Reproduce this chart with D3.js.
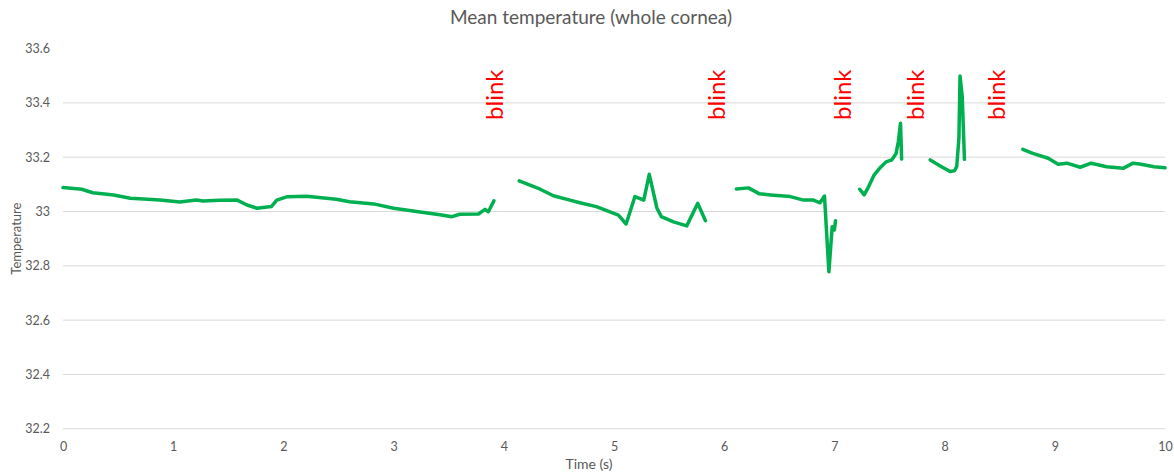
<!DOCTYPE html>
<html>
<head>
<meta charset="utf-8">
<script src="https://cdn.jsdelivr.net/npm/d3@7"></script>
<style>
  body { margin: 0; background: #fff; }
  text { font-family: Lato, "Open Sans", sans-serif; }
</style>
</head>
<body>
<svg id="chart"></svg>
<script>
const width = 1174;
const height = 473;
const margin = { top: 48.6, right: 9, bottom: 44.3, left: 63 };

// time (s) and mean temperature; null marks a gap (blink)
const time = [
  0.00, 0.17, 0.27, 0.46, 0.61, 0.73, 0.88, 1.06, 1.21, 1.27, 1.42, 1.58, 1.67, 1.76, 1.89, 1.94,
  2.03, 2.21, 2.48, 2.60, 2.82, 3.00, 3.24, 3.42, 3.53, 3.60, 3.77, 3.83, 3.86, 3.91,
  4.00,
  4.14, 4.33, 4.45, 4.60, 4.69, 4.84, 5.04, 5.11, 5.19, 5.27, 5.32, 5.39, 5.43, 5.54, 5.66, 5.76, 5.83,
  6.00,
  6.11, 6.22, 6.32, 6.42, 6.60, 6.72, 6.81, 6.87, 6.91, 6.95, 6.98, 7.00, 7.01,
  7.10,
  7.23, 7.27, 7.31, 7.36, 7.41, 7.47, 7.52, 7.56, 7.58, 7.60, 7.61,
  7.75,
  7.87, 7.96, 8.05, 8.09, 8.11, 8.13, 8.14, 8.16, 8.18,
  8.40,
  8.71, 8.80, 8.94, 9.03, 9.11, 9.23, 9.33, 9.47, 9.62, 9.71, 9.77, 9.90, 10.00
];
const temp = [
  33.088, 33.082, 33.069, 33.061, 33.049, 33.046, 33.042, 33.035, 33.042, 33.039, 33.041, 33.042, 33.024, 33.012, 33.018, 33.042,
  33.054, 33.056, 33.045, 33.036, 33.028, 33.012, 32.998, 32.988, 32.981, 32.990, 32.991, 33.008, 32.999, 33.039,
  null,
  33.113, 33.082, 33.058, 33.042, 33.032, 33.018, 32.987, 32.954, 33.055, 33.042, 33.137, 33.012, 32.981, 32.962, 32.947, 33.030, 32.966,
  null,
  33.083, 33.087, 33.065, 33.061, 33.055, 33.042, 33.042, 33.032, 33.057, 32.778, 32.944, 32.932, 32.966,
  null,
  33.082, 33.061, 33.091, 33.134, 33.159, 33.183, 33.190, 33.214, 33.257, 33.325, 33.193,
  null,
  33.190, 33.168, 33.147, 33.150, 33.165, 33.270, 33.499, 33.423, 33.192,
  null,
  33.229, 33.214, 33.196, 33.174, 33.178, 33.163, 33.178, 33.165, 33.159, 33.178, 33.175, 33.165, 33.161
];

const blinkTimes = [3.91, 5.92, 7.06, 7.73, 8.46];
const blinkY = 33.43;

const xTicks = [0, 1, 2, 3, 4, 5, 6, 7, 8, 9, 10];
const yTicks = [32.2, 32.4, 32.6, 32.8, 33, 33.2, 33.4, 33.6];

const svg = d3.select('#chart')
    .attr('width', width)
    .attr('height', height);

const x = d3.scaleLinear()
    .domain([0, 10])
    .range([margin.left, width - margin.right]);

const y = d3.scaleLinear()
    .domain([32.2, 33.6])
    .range([height - margin.bottom, margin.top]);

// gridlines (no line at the top value)
svg.append('g')
    .selectAll('line')
    .data(yTicks.filter(d => d < 33.6))
    .enter()
    .append('line')
    .attr('x1', x(0))
    .attr('x2', x(10))
    .attr('y1', d => y(d))
    .attr('y2', d => y(d))
    .attr('stroke', '#d9d9d9')
    .attr('stroke-width', 1);

// y axis labels
const yAxis = d3.axisLeft(y).tickValues(yTicks).tickSize(0).tickPadding(13)
    .tickFormat(d => d3.format('')(+d.toFixed(1)));
svg.append('g')
    .attr('transform', `translate(${margin.left},0)`)
    .call(yAxis)
    .call(g => g.select('.domain').remove())
    .call(g => g.selectAll('text')
        .attr('fill', '#595959')
        .style('font-family', 'Lato, sans-serif')
        .style('font-size', '12.5px'));

// x axis labels
const xAxis = d3.axisBottom(x).tickValues(xTicks).tickSize(0).tickPadding(13);
svg.append('g')
    .attr('transform', `translate(0,${y(32.2)})`)
    .call(xAxis)
    .call(g => g.select('.domain').remove())
    .call(g => g.selectAll('text')
        .attr('fill', '#595959')
        .style('font-family', 'Lato, sans-serif')
        .style('font-size', '12.5px'));

// series
const line = d3.line()
    .defined(d => d[1] !== null)
    .x(d => x(d[0]))
    .y(d => y(d[1]));

svg.append('path')
    .datum(time.map((t, i) => [t, temp[i]]))
    .attr('fill', 'none')
    .attr('stroke', '#00b050')
    .attr('stroke-width', 3.5)
    .attr('stroke-linejoin', 'round')
    .attr('stroke-linecap', 'round')
    .attr('d', line);

// blink labels
svg.append('g')
    .selectAll('text')
    .data(blinkTimes)
    .enter()
    .append('text')
    .attr('transform', d => `translate(${x(d)},${y(blinkY)}) rotate(-90)`)
    .attr('text-anchor', 'middle')
    .attr('dominant-baseline', 'central')
    .attr('fill', '#ff0000')
    .style('font-size', '24px')
    .text('blink');

// title
svg.append('text')
    .attr('x', width / 2 + 4)
    .attr('y', 24)
    .attr('text-anchor', 'middle')
    .attr('fill', '#595959')
    .style('font-size', '19px')
    .text('Mean temperature (whole cornea)');

// axis titles
svg.append('text')
    .attr('x', width / 2 + 2)
    .attr('y', 469)
    .attr('text-anchor', 'middle')
    .attr('fill', '#595959')
    .style('font-size', '14px')
    .text('Time (s)');

svg.append('text')
    .attr('transform', `translate(21,${y(32.9)}) rotate(-90)`)
    .attr('text-anchor', 'middle')
    .attr('fill', '#595959')
    .style('font-size', '13px')
    .text('Temperature');
</script>
</body>
</html>
